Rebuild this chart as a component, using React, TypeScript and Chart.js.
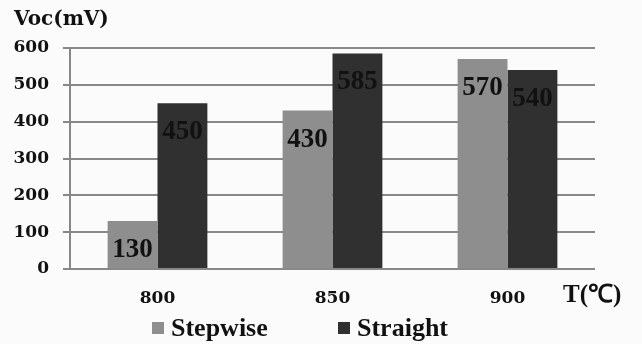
import React, { useEffect, useRef } from "react";
import { Chart, registerables } from "chart.js";

Chart.register(...registerables);

const categories = ["800", "850", "900"];
const stepwise = [130, 430, 570];
const straight = [450, 585, 540];
const seriesNames = ["Stepwise", "Straight"];
const yTicks = [0, 100, 200, 300, 400, 500, 600];

const SERIF = "'Liberation Serif', 'Times New Roman', serif";
const WIDE_SERIF = "'DejaVu Serif', serif";

const overlay = {
  id: "overlay",
  afterDatasetsDraw(chart: any) {
    const ctx = chart.ctx;
    ctx.save();
    // value labels inside the top of each bar
    ctx.font = `bold 27px ${SERIF}`;
    ctx.fillStyle = "#111";
    ctx.textAlign = "center";
    ctx.textBaseline = "middle";
    chart.data.datasets.forEach((ds: any, di: number) => {
      const meta = chart.getDatasetMeta(di);
      meta.data.forEach((bar: any, i: number) => {
        ctx.fillText(String(ds.data[i]), bar.x, bar.y + 29);
      });
    });
    ctx.restore();
  },
  afterDraw(chart: any) {
    const ctx = chart.ctx;
    const area = chart.chartArea;
    ctx.save();
    ctx.fillStyle = "#111";
    // axis titles
    ctx.font = `bold 20px ${WIDE_SERIF}`;
    ctx.textAlign = "left";
    ctx.textBaseline = "middle";
    ctx.fillText("Voc(mV)", 14, 20);
    ctx.font = `bold 25px ${SERIF}`;
    ctx.fillText("T(\u2103)", area.right - 32, area.bottom + 27);

    // legend
    ctx.font = `bold 26px ${SERIF}`;
    ctx.textBaseline = "alphabetic";
    const starts = [152, 338];
    chart.data.datasets.forEach((ds: any, di: number) => {
      const x = starts[di];
      ctx.fillStyle = ds.backgroundColor;
      ctx.fillRect(x, 322, 12, 12);
      ctx.fillStyle = "#111";
      ctx.fillText(ds.label, x + 19, 336);
    });
    ctx.restore();
  },
};

export default function App() {
  const ref = useRef<HTMLCanvasElement>(null);

  useEffect(() => {
    if (!ref.current) return;
    const chart = new Chart(ref.current, {
      type: "bar",
      data: {
        labels: categories,
        datasets: [
          { label: seriesNames[0], data: stepwise, backgroundColor: "#8e8e8e" },
          { label: seriesNames[1], data: straight, backgroundColor: "#303030" },
        ],
      },
      options: {
        responsive: false,
        animation: false,
        layout: { padding: { top: 48, right: 47, left: 0, bottom: 0 } },
        plugins: { legend: { display: false }, tooltip: { enabled: false } },
        datasets: {
          bar: { barPercentage: 1, categoryPercentage: 0.57 },
        },
        scales: {
          x: {
            grid: { display: false, drawTicks: false },
            border: { display: false },
            ticks: {
              padding: 19,
              color: "#111",
              font: { family: WIDE_SERIF, size: 17, weight: "bold" },
            },
            afterFit(scale: any) {
              scale.height = 75;
            },
          },
          y: {
            min: 0,
            max: 600,
            afterBuildTicks(scale: any) {
              scale.ticks = yTicks.map((v) => ({ value: v }));
            },
            grid: { color: "#888", lineWidth: 2, tickLength: 7 },
            border: { display: true, color: "#888", width: 2 },
            ticks: {
              padding: 14,
              color: "#111",
              font: { family: WIDE_SERIF, size: 17, weight: "bold" },
            },
            afterFit(scale: any) {
              scale.width = 70;
            },
          },
        },
      },
      plugins: [overlay],
    });
    return () => chart.destroy();
  }, []);

  return (
    <div style={{ position: "fixed", left: 0, top: 0, width: 642, height: 344, background: "#fbfbfb" }}>
      <canvas ref={ref} width={642} height={344} />
    </div>
  );
}
